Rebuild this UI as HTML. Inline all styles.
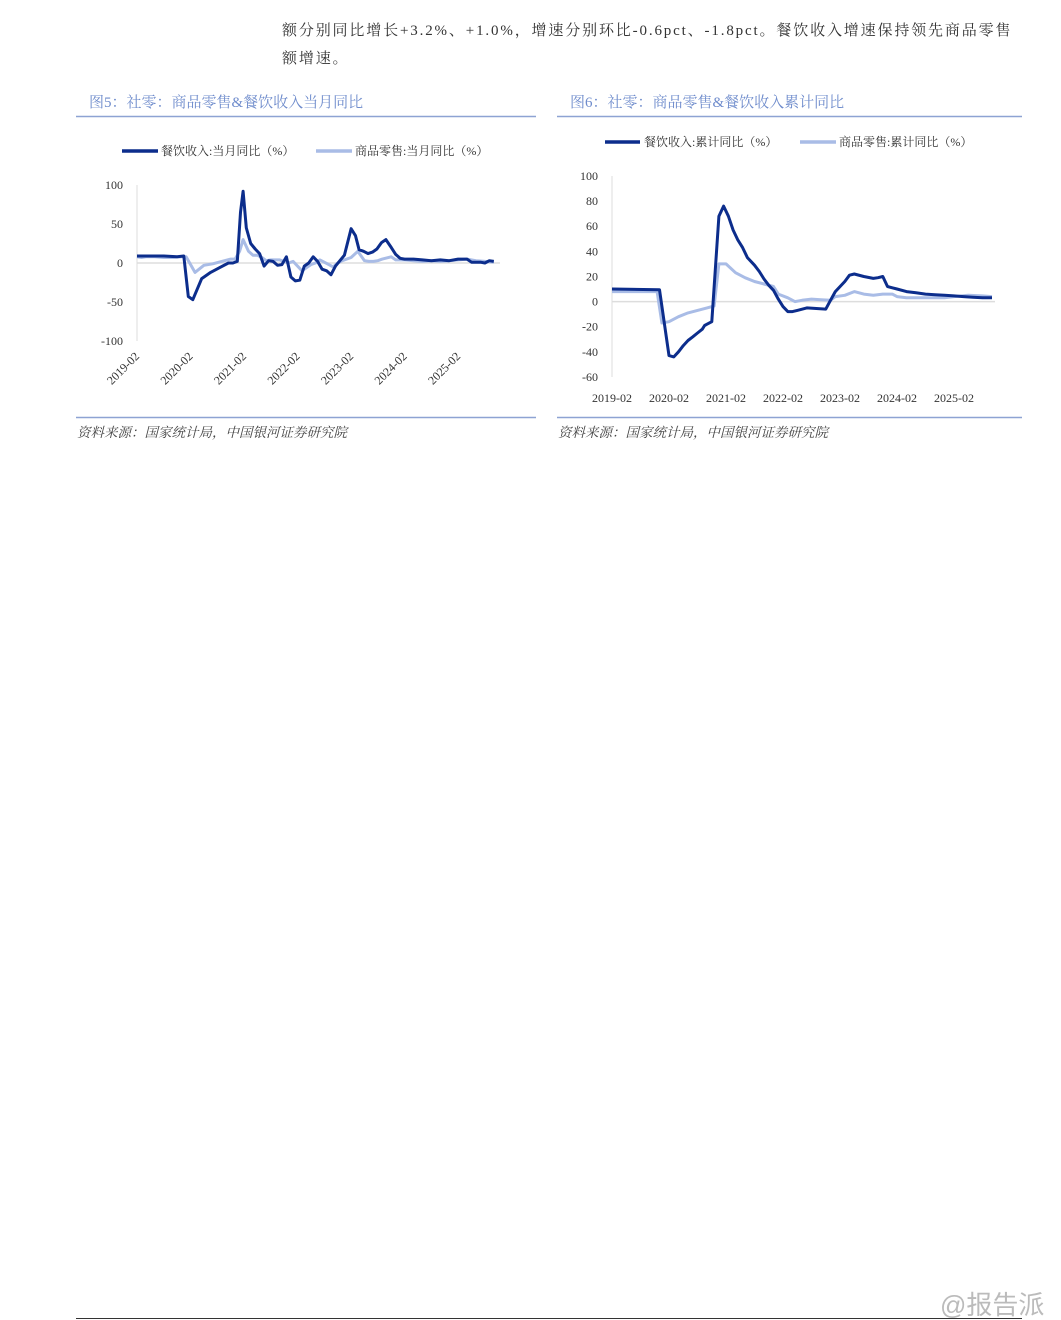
<!DOCTYPE html>
<html><head><meta charset="utf-8">
<style>
body{margin:0;width:1061px;height:1320px;background:#fff;position:relative;overflow:hidden;font-family:"Liberation Serif","Noto Serif CJK SC",serif;}
.p{position:absolute;left:282px;font-size:15px;color:#333;letter-spacing:1.85px;white-space:nowrap;}
svg{position:absolute;left:0;top:0;}
</style></head><body>
<div class="p" style="top:19px;">额分别同比增长+3.2%、+1.0%，增速分别环比-0.6pct、-1.8pct。餐饮收入增速保持领先商品零售</div>
<div class="p" style="top:47px;">额增速。</div>
<svg width="1061" height="1320" id="s" font-family="Liberation Serif, Noto Serif CJK SC, serif">
<g font-size="15" fill="#6f8ccc">
<text x="89" y="107">图5：社零：商品零售&amp;餐饮收入当月同比</text>
<text x="570" y="107">图6：社零：商品零售&amp;餐饮收入累计同比</text>
</g>
<g stroke="#8ea3d3" stroke-width="1.5">
<line x1="76" y1="116.5" x2="536" y2="116.5"/><line x1="557" y1="116.5" x2="1022" y2="116.5"/>
<line x1="76" y1="417.5" x2="536" y2="417.5"/><line x1="557" y1="417.5" x2="1022" y2="417.5"/>
<line x1="76" y1="1318.5" x2="1022" y2="1318.5" stroke="#333" stroke-width="1"/>
</g>
<g font-size="13.5" fill="#444" font-style="italic">
<text x="77" y="437">资料来源：国家统计局，中国银河证券研究院</text>
<text x="558" y="437">资料来源：国家统计局，中国银河证券研究院</text>
</g>
<text x="940" y="1314" font-size="26" fill="#bbb" font-family="Liberation Sans, Noto Sans CJK SC, sans-serif">@报告派</text>
<g font-size="12" fill="#333">
<line x1="122" y1="151" x2="158" y2="151" stroke="#0c2d8c" stroke-width="3.5"/><text x="161" y="155">餐饮收入:当月同比（%）</text>
<line x1="316" y1="151" x2="352" y2="151" stroke="#a9bce6" stroke-width="3.5"/><text x="355" y="155">商品零售:当月同比（%）</text>
<line x1="605" y1="142" x2="640" y2="142" stroke="#0c2d8c" stroke-width="3.5"/><text x="644" y="146">餐饮收入:累计同比（%）</text>
<line x1="800" y1="142" x2="836" y2="142" stroke="#a9bce6" stroke-width="3.5"/><text x="839" y="146">商品零售:累计同比（%）</text>
</g>
<g id="c1"></g><g id="c2"></g>
</svg>
<script>
var NS="http://www.w3.org/2000/svg";
function el(p,t,a,txt){var e=document.createElementNS(NS,t);for(var k in a)e.setAttribute(k,a[k]);if(txt!=null)e.textContent=txt;p.appendChild(e);return e;}
function path(g,d,X,Y,c){var s="";d.forEach(function(p,i){s+=(i?"L":"M")+X(p[0]).toFixed(1)+","+Y(p[1]).toFixed(1);});el(g,"path",{d:s,fill:"none",stroke:c,"stroke-width":3,"stroke-linejoin":"round"});}
var g1=document.getElementById("c1");
var X1=function(i){return 137+i*4.46},Y1=function(v){return 263-v*0.78};
el(g1,"line",{x1:137,y1:185,x2:137,y2:341,stroke:"#ddd"});
el(g1,"line",{x1:137,y1:263,x2:500,y2:263,stroke:"#ddd","stroke-width":1.5});
[100,50,0,-50,-100].forEach(function(v){el(g1,"text",{x:123,y:Y1(v)+4,"text-anchor":"end","font-size":12,fill:"#333"},v)});
for(var k=0;k<7;k++){var x=X1(k*12);el(g1,"text",{x:x+3,y:357,"text-anchor":"end","font-size":12,fill:"#333",transform:"rotate(-45 "+(x+3)+" 357)"},(2019+k)+"-02");}
var l1=[[0,8],[1,7],[2,8],[4,8],[6,7],[8,7],[10,8],[11,8],[13,-12],[15,-3],[17,-1],[19,2],[21,5],[22,5],[23,15],[23.8,30],[25,15],[26,10],[27,10],[28,7],[29,3],[30,4],[32,4],[33,2],[34,0],[35,2],[37,-10],[39,-2],[40,0],[41,4],[42,1],[44,-5],[45,0],[46,3],[48,7],[49.5,15],[51,3],[52,2],[53,2],[54,3],[55,5],[57,8],[58,4],[60,4],[62,3],[64,2],[66,3],[68,2],[70,3],[72,4],[74,5],[76,3],[78,2],[80,1]];
var d1=[[0,9],[3,9],[6,9],[9,8],[10.5,9],[11.5,-43],[12.5,-47],[14.5,-20],[16.5,-12],[18.5,-6],[20.5,0],[21.5,0],[22.5,2],[23.2,65],[23.8,92],[24.5,45],[25.5,25],[26.5,18],[27.5,12],[28.5,-4],[29.5,3],[30.5,2],[31.5,-3],[32.5,-2],[33.5,8],[34.5,-18],[35.5,-23],[36.5,-22],[37.5,-4],[38.5,0],[39.5,8],[40.5,2],[41.5,-8],[42.5,-10],[43.5,-15],[44.5,-4],[46.5,10],[48,44],[49,35],[49.8,17],[50.8,15],[51.8,12],[52.8,14],[53.8,18],[54.8,26],[55.8,30],[57,20],[58,11],[59,6],[60,5],[62,5],[64,4],[66,3],[68,4],[70,3],[72,5],[74,5],[75,1],[77,1],[78,0],[79,3],[80,2]];
path(g1,l1,X1,Y1,"#a9bce6");path(g1,d1,X1,Y1,"#0c2d8c");
var g2=document.getElementById("c2");
var X2=function(i){return 612+i*4.75},Y2=function(v){return 301.6-v*1.256};
el(g2,"line",{x1:612,y1:176,x2:612,y2:377,stroke:"#ddd"});
el(g2,"line",{x1:612,y1:301.6,x2:995,y2:301.6,stroke:"#ddd","stroke-width":1.5});
[100,80,60,40,20,0,-20,-40,-60].forEach(function(v){el(g2,"text",{x:598,y:Y2(v)+4,"text-anchor":"end","font-size":12,fill:"#333"},v)});
for(var k=0;k<7;k++){el(g2,"text",{x:X2(k*12),y:402,"text-anchor":"middle","font-size":12,fill:"#333"},(2019+k)+"-02");}
var l2=[[0,8],[9.5,8],[10.5,-17],[12,-16],[14,-12],[16,-9],[18,-7],[20,-5],[21.5,-3.5],[22.5,30],[24,30],[26,23],[28,19],[30,16],[32,14],[34,12],[35,6],[37,3],[38.5,0],[40,1],[42,2],[44,1.5],[46,1],[47,4],[49,5],[51,8],[53,6],[55,5],[57,6],[59,6],[60,4],[62,3],[66,3],[70,3],[72,4],[75,5],[78,4.5],[80,4]];
var d2=[[0,10],[10,9.5],[12,-43],[13,-44],[14,-40],[15,-35],[16,-31],[17,-28],[18,-25],[19,-22],[19.5,-19],[20,-18],[21,-16],[22.5,68],[23.5,76],[24.5,68],[25.5,57],[26.5,49],[27.5,43],[28.5,35],[30,29],[31,24],[32,18],[33,13],[34,9],[35,2],[36,-4],[37,-8],[38,-8],[39,-7],[41,-5],[43,-5.5],[45,-6],[46,1],[47,8],[49,16],[50,21],[51,22],[53,20],[55,18.5],[56,19],[57,20],[58,12],[59,11],[60,10],[62,8],[64,7],[66,6],[68,5.5],[70,5],[72,4.5],[74,4],[76,3.5],[78,3],[80,3]];
path(g2,l2,X2,Y2,"#a9bce6");path(g2,d2,X2,Y2,"#0c2d8c");
</script>
</body></html>
